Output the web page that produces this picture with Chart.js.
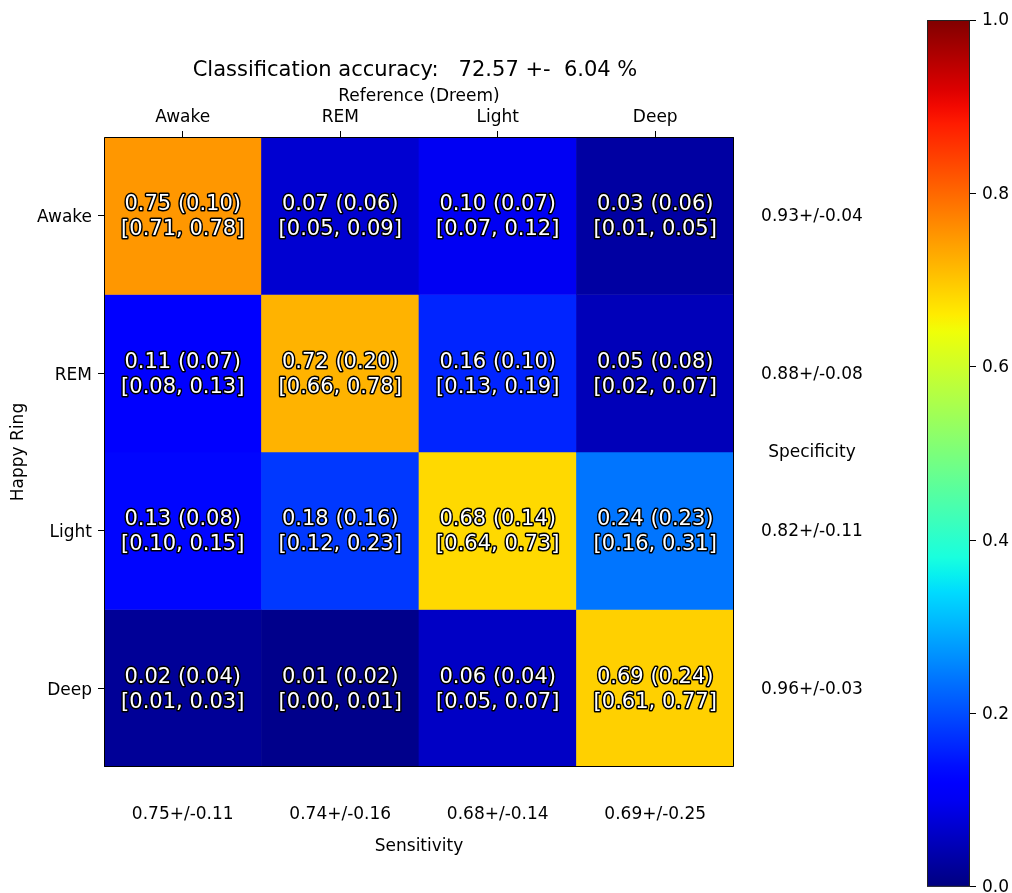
<!DOCTYPE html>
<html>
<head>
<meta charset="utf-8">
<script src="https://cdn.jsdelivr.net/npm/chart.js@4.4.1/dist/chart.umd.min.js"></script>
<style>
  body { margin: 0; background: #fff; overflow: hidden; }
  #wrap { position: relative; width: 1012px; height: 893px; overflow: hidden; }
  #wrap canvas { position: absolute; left: 0; top: 0; }
</style>
</head>
<body>
<div id="wrap">
  <canvas id="matrix" width="1012" height="893"></canvas>
  <canvas id="cbar" width="1012" height="903"></canvas>
</div>
<script>
// dados da matriz de confusao (linhas = Happy Ring, colunas = Dreem)
const stages = ['Awake', 'REM', 'Light', 'Deep'];
const meanVals = [
  [0.75, 0.07, 0.10, 0.03],
  [0.11, 0.72, 0.16, 0.05],
  [0.13, 0.18, 0.68, 0.24],
  [0.02, 0.01, 0.06, 0.69]
];
const stdVals = [
  [0.10, 0.06, 0.07, 0.06],
  [0.07, 0.20, 0.10, 0.08],
  [0.08, 0.16, 0.14, 0.23],
  [0.04, 0.02, 0.04, 0.24]
];
const ciLow = [
  [0.71, 0.05, 0.07, 0.01],
  [0.08, 0.66, 0.13, 0.02],
  [0.10, 0.12, 0.64, 0.16],
  [0.01, 0.00, 0.05, 0.61]
];
const ciHigh = [
  [0.78, 0.09, 0.12, 0.05],
  [0.13, 0.78, 0.19, 0.07],
  [0.15, 0.23, 0.73, 0.31],
  [0.03, 0.01, 0.07, 0.77]
];
const sensitivity = ['0.75+/-0.11', '0.74+/-0.16', '0.68+/-0.14', '0.69+/-0.25'];
const specificity = ['0.93+/-0.04', '0.88+/-0.08', '0.82+/-0.11', '0.96+/-0.03'];
const colorbarTicks = [0.0, 0.2, 0.4, 0.6, 0.8, 1.0];
const titleText = 'Classification accuracy:   72.57 +-  6.04 %';

Chart.defaults.font.family = '"DejaVu Sans", sans-serif';
Chart.defaults.font.size = 17;
Chart.defaults.color = '#000';
Chart.defaults.animation = false;

// colormap jet do matplotlib
function interp(pts, v) {
  for (let i = 1; i < pts.length; i++) {
    if (v <= pts[i][0]) {
      const [x0, y0] = pts[i - 1], [x1, y1] = pts[i];
      return y0 + (y1 - y0) * (v - x0) / (x1 - x0);
    }
  }
  return pts[pts.length - 1][1];
}
function jet(v) {
  const r = interp([[0, 0], [0.35, 0], [0.66, 1], [0.89, 1], [1, 0.5]], v);
  const g = interp([[0, 0], [0.125, 0], [0.375, 1], [0.64, 1], [0.91, 0], [1, 0]], v);
  const b = interp([[0, 0.5], [0.11, 1], [0.34, 1], [0.65, 0], [1, 0]], v);
  return `rgb(${Math.round(r * 255)},${Math.round(g * 255)},${Math.round(b * 255)})`;
}

function outlinedText(ctx, txt, x, y) {
  ctx.lineWidth = 3;
  ctx.strokeStyle = '#000';
  ctx.lineJoin = 'round';
  ctx.strokeText(txt, x, y);
  ctx.fillStyle = '#fff';
  ctx.fillText(txt, x, y);
}

const matrixText = {
  id: 'matrixText',
  afterDatasetsDraw(chart) {
    const { ctx, chartArea: a, scales: { x, y } } = chart;
    ctx.save();
    ctx.textAlign = 'center';
    ctx.textBaseline = 'middle';
    ctx.font = '21px "DejaVu Sans"';
    for (let r = 0; r < stages.length; r++) {
      for (let c = 0; c < stages.length; c++) {
        const px = x.getPixelForValue(c), py = y.getPixelForValue(r);
        outlinedText(ctx, `${meanVals[r][c].toFixed(2)} (${stdVals[r][c].toFixed(2)})`, px, py - 11);
        outlinedText(ctx, `[${ciLow[r][c].toFixed(2)}, ${ciHigh[r][c].toFixed(2)}]`, px, py + 14);
      }
    }
    // moldura
    ctx.strokeStyle = '#000';
    ctx.lineWidth = 1;
    ctx.strokeRect(a.left + 0.5, a.top + 0.5, a.width - 1, a.height - 1);

    ctx.fillStyle = '#000';
    ctx.font = '17px "DejaVu Sans"';
    stages.forEach((s, i) => {
      ctx.fillText(sensitivity[i], x.getPixelForValue(i), a.bottom + 48);
      ctx.fillText(specificity[i], a.right + 78, y.getPixelForValue(i) + 1);
    });
    const midX = (a.left + a.right) / 2, midY = (a.top + a.bottom) / 2;
    ctx.fillText('Sensitivity', midX, a.bottom + 80);
    ctx.fillText('Specificity', a.right + 78, midY + 1);
    ctx.fillText('Reference (Dreem)', midX, a.top - 40);
    ctx.font = '21px "DejaVu Sans"';
    ctx.fillText(titleText, midX - 4, a.top - 66);
    ctx.font = '17px "DejaVu Sans"';
    ctx.translate(19, midY);
    ctx.rotate(-Math.PI / 2);
    ctx.fillText('Happy Ring', 0, 0);
    ctx.restore();
  }
};

new Chart(document.getElementById('matrix'), {
  type: 'bar',
  data: {
    labels: stages,
    datasets: stages.map((s, r) => ({
      label: s,
      data: stages.map(() => [r - 0.5, r + 0.5]),
      backgroundColor: meanVals[r].map(jet),
      borderWidth: 0,
      grouped: false,
      barPercentage: 1,
      categoryPercentage: 1
    }))
  },
  options: {
    responsive: false,
    layout: { padding: { left: 0, top: 0, right: 278, bottom: 126 } },
    plugins: { legend: { display: false }, tooltip: { enabled: false } },
    scales: {
      x: {
        position: 'top',
        grid: { display: true, offset: false, drawOnChartArea: false, tickLength: 6, tickColor: '#000' },
        border: { display: false },
        ticks: { padding: 3 },
        afterFit: s => { s.height = 137; }
      },
      y: {
        type: 'linear',
        min: -0.5,
        max: 3.5,
        reverse: true,
        grid: { display: true, drawOnChartArea: false, tickLength: 6, tickColor: '#000' },
        border: { display: false },
        afterBuildTicks: s => { s.ticks = stages.map((st, i) => ({ value: i })); },
        ticks: { padding: 6, labelOffset: 2, callback: v => stages[v] },
        afterFit: s => { s.width = 104; }
      }
    }
  },
  plugins: [matrixText]
});

// barra de cores
const cbarFrame = {
  id: 'cbarFrame',
  afterDatasetsDraw(chart) {
    const { ctx, chartArea: a } = chart;
    ctx.save();
    ctx.strokeStyle = '#222';
    ctx.lineWidth = 1;
    ctx.strokeRect(a.left + 0.5, a.top + 0.5, a.width - 1, a.height - 1);
    ctx.restore();
  }
};

new Chart(document.getElementById('cbar'), {
  type: 'bar',
  data: {
    labels: ['cbar'],
    datasets: [{
      data: [[0, 1]],
      backgroundColor: c => {
        const a = c.chart.chartArea;
        if (!a) return '#000';
        const g = c.chart.ctx.createLinearGradient(0, a.bottom, 0, a.top);
        for (let i = 0; i <= 50; i++) g.addColorStop(i / 50, jet(i / 50));
        return g;
      },
      borderWidth: 0,
      barPercentage: 1,
      categoryPercentage: 1
    }]
  },
  options: {
    responsive: false,
    layout: { padding: { left: 927, top: 20, right: 0, bottom: 7 } },
    plugins: { legend: { display: false }, tooltip: { enabled: false } },
    scales: {
      x: { display: false },
      y: {
        position: 'right',
        min: 0,
        max: 1,
        grid: { display: true, drawOnChartArea: false, tickLength: 6, tickColor: '#000' },
        border: { display: false },
        afterBuildTicks: s => { s.ticks = colorbarTicks.map(v => ({ value: v })); },
        ticks: { padding: 6, labelOffset: 1, callback: v => v.toFixed(1) },
        afterFit: s => { s.width = 1012 - 970; }
      }
    }
  },
  plugins: [cbarFrame]
});
</script>
</body>
</html>
